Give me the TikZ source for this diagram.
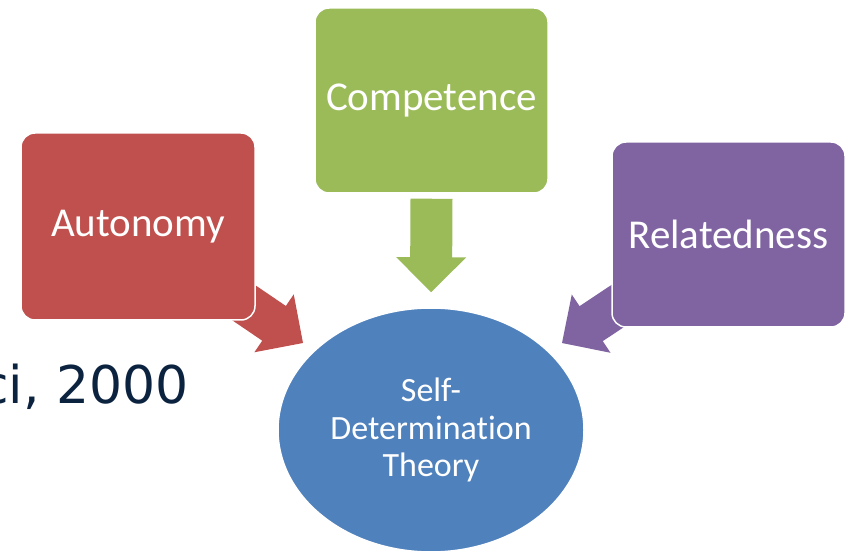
\documentclass[tikz,border=0pt]{standalone}
\usepackage{fontspec}
\setmainfont[Ligatures=NoCommon]{Carlito}
\newfontfamily\notefont{DejaVu Sans}
\usetikzlibrary{calc,shapes.geometric}

\definecolor{autored}{HTML}{C0504D}
\definecolor{compgreen}{HTML}{9BBB59}
\definecolor{relpurple}{HTML}{8064A2}
\definecolor{sdtblue}{HTML}{4F81BD}
\definecolor{citenavy}{HTML}{0C2340}

\pgfdeclarelayer{arrowlayer}
\pgfsetlayers{arrowlayer,main}

% block arrow: #1 colour, #2 start coordinate, #3 tip coordinate
\newcommand\blockarrow[3]{%
  \coordinate (headbase) at ($(#3)!35pt!(#2)$);
  \fill[#1] ($(#2)!21pt!90:(#3)$) -- ($(headbase)!21pt!90:(#3)$)
    -- ($(headbase)!35pt!90:(#3)$) -- (#3)
    -- ($(headbase)!35pt!-90:(#3)$) -- ($(headbase)!21pt!-90:(#3)$)
    -- ($(#2)!21pt!-90:(#3)$) -- cycle;}

\tikzset{
  needbox/.style={rectangle, rounded corners=14pt, draw=white, line width=1.5pt,
    inner sep=0pt, text=white, font=\fontsize{41}{49}\selectfont},
  corenode/.style={ellipse, draw=white, line width=1.5pt, inner sep=0pt,
    fill=sdtblue, text=white, align=center,
    font=\fontsize{34}{37.5}\selectfont}
}

\begin{document}
\begin{tikzpicture}[x=1pt,y=-1pt]
\useasboundingbox (0,0) rectangle (852,553);

% centre of the model
\node[corenode, minimum width=306pt, minimum height=244pt] (sdt) at (431,430)
  {Self-\\Determination\\Theory};

% the three basic needs
\node[needbox, fill=compgreen, minimum width=233pt, minimum height=185pt]
  (comp) at (431.5,100.5) {Competence};
\node[needbox, fill=autored, minimum width=234pt, minimum height=187pt]
  (auto) at (138,226.5) {Autonomy};
\node[needbox, fill=relpurple, minimum width=233pt, minimum height=185pt]
  (rel) at (728.5,234.5) {Relatedness};

% citation, partly running off the left edge
\node[anchor=base west, inner sep=0pt, text=citenavy,
  font=\notefont\fontsize{52}{60}\selectfont] (cite) at (-20,403) {ci, 2000};

% arrows converging on the centre, drawn beneath the boxes
\coordinate (comptip) at ($(sdt.north)+(0,-15)$);
\coordinate (compstart) at ($(comp.south)+(0,5)$);
\coordinate (autotip) at (303,343);
\coordinate (autostart) at ($(autotip)!-95pt!(sdt.center)$);
\coordinate (reltip) at (562,343);
\coordinate (relstart) at ($(reltip)!-95pt!(sdt.center)$);

\begin{pgfonlayer}{arrowlayer}
  \blockarrow{compgreen}{compstart}{comptip}
  \blockarrow{autored}{autostart}{autotip}
  \blockarrow{relpurple}{relstart}{reltip}
\end{pgfonlayer}
\end{tikzpicture}
\end{document}
